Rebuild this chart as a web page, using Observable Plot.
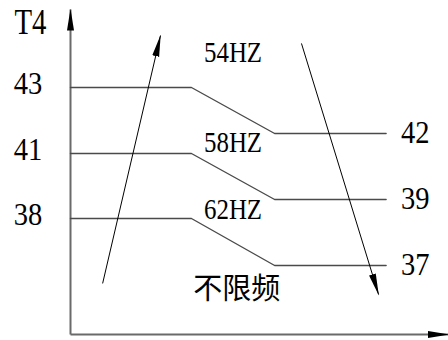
<!DOCTYPE html>
<html>
<head>
<meta charset="utf-8">
<script src="https://cdn.jsdelivr.net/npm/d3@7"></script>
<script src="https://cdn.jsdelivr.net/npm/@observablehq/plot@0.6"></script>
<style>
  html, body { margin: 0; padding: 0; background: #fff; }
</style>
</head>
<body>
<script>
// ---- data ----
const axisTitle = "T4";
const seriesNames = ["54HZ", "58HZ", "62HZ"];
const t4Left = [43, 41, 38];          // T4 before the transition
const t4Right = [42, 39, 37];         // T4 after the transition
const xBreaks = [0, 32, 54, 83.5];    // schematic time: start, bend 1, bend 2, end
const freqLabels = ["54HZ", "58HZ", "62HZ", "不限频"];
const labelX = [43, 43, 43, 44];
const labelY = [43.9, 41.55, 38.47, 36.3];
const axisEnds = {x: [0, 100], y: [35, 45]};
const trendFrom = [{x: 8.5, y: 36.48}, {x: 61.1, y: 44.13}];
const trendTo = [{x: 23.8, y: 44.33}, {x: 81.5, y: 36.16}];

// ---- derived tables ----
const steps = seriesNames.flatMap((s, i) => [
  {series: s, x: xBreaks[0], y: t4Left[i]},
  {series: s, x: xBreaks[1], y: t4Left[i]},
  {series: s, x: xBreaks[2], y: t4Right[i]},
  {series: s, x: xBreaks[3], y: t4Right[i]}
]);
const leftTicks = t4Left.map(v => ({x: xBreaks[0], y: v, t: String(v)}));
const rightTicks = t4Right.map(v => ({x: xBreaks[3], y: v, t: String(v)}));
const labels = freqLabels.map((t, i) => ({t, x: labelX[i], y: labelY[i]}));
const axes = [
  {x1: axisEnds.x[0], y1: axisEnds.y[0], x2: axisEnds.x[0], y2: axisEnds.y[1]},
  {x1: axisEnds.x[0], y1: axisEnds.y[0], x2: axisEnds.x[1], y2: axisEnds.y[0]}
];
const trends = trendFrom.map((f, i) => ({x1: f.x, y1: f.y, x2: trendTo[i].x, y2: trendTo[i].y}));

const serif = "Liberation Serif, Times New Roman, serif";

const chart = Plot.plot({
  width: 448,
  height: 340,
  margin: 0,
  style: {background: "#fff", overflow: "visible"},
  x: {type: "linear", domain: [0, 100], range: [70, 448], axis: null},
  y: {type: "linear",
      domain: [45, 43, 42, 41, 39, 38, 37, 35],
      range: [9, 87, 133, 153, 199, 218, 265, 334],
      axis: null},
  marks: [
    Plot.link(axes, {x1: "x1", y1: "y1", x2: "x2", y2: "y2", stroke: "#6a6a6a", strokeWidth: 2}),
    Plot.line(steps, {x: "x", y: "y", z: "series", stroke: "#4a4a4a", strokeWidth: 1.4}),
    Plot.link(trends, {x1: "x1", y1: "y1", x2: "x2", y2: "y2", stroke: "#000", strokeWidth: 1}),
    Plot.text([axisTitle], {x: () => axisEnds.x[0], y: () => axisEnds.y[1], text: d => d, dx: -40, dy: 12.5,
      fontFamily: serif, fontSize: 36, fill: "#000"}),
    Plot.text(leftTicks, {x: "x", y: "y", text: "t", dx: -42.5, dy: -3,
      fontFamily: serif, fontSize: 31, fill: "#000"}),
    Plot.text(rightTicks, {x: "x", y: "y", text: "t", dx: 29, dy: 0,
      fontFamily: serif, fontSize: 31, fill: "#000"}),
    Plot.text(labels.slice(0, 3), {x: "x", y: "y", text: "t",
      fontFamily: serif, fontSize: 30, fill: "#000"}),
    Plot.text(labels.slice(3), {x: "x", y: "y", text: "t",
      fontFamily: "Noto Sans CJK SC, sans-serif", fontSize: 29, fill: "#000"})
  ]
});

document.body.append(chart);

// filled arrowheads
const svg = d3.select(chart);
svg.append("defs").append("marker")
  .attr("id", "head")
  .attr("markerUnits", "userSpaceOnUse")
  .attr("viewBox", "0 -5 22 10")
  .attr("markerWidth", 22)
  .attr("markerHeight", 10)
  .attr("refX", 21)
  .attr("refY", 0)
  .attr("orient", "auto")
  .append("path")
  .attr("d", "M0,-3.5L22,0L0,3.5Z")
  .attr("fill", "#000");
svg.selectAll('g[aria-label="link"] path')
  .attr("marker-end", "url(#head)");

// condensed look of the original lettering (text marks in order: title, left ticks, right ticks, hz labels, cjk)
const squeeze = [0.8, 0.92, 0.92, 0.83, 1];
svg.selectAll('g[aria-label="text"]').each(function (_, gi) {
  const f = squeeze[gi] ?? 1;
  if (f === 1) return;
  d3.select(this).selectAll("text").each(function () {
    const w = this.getComputedTextLength();
    this.setAttribute("textLength", (w * f).toFixed(2));
    this.setAttribute("lengthAdjust", "spacingAndGlyphs");
  });
});
</script>
</body>
</html>
